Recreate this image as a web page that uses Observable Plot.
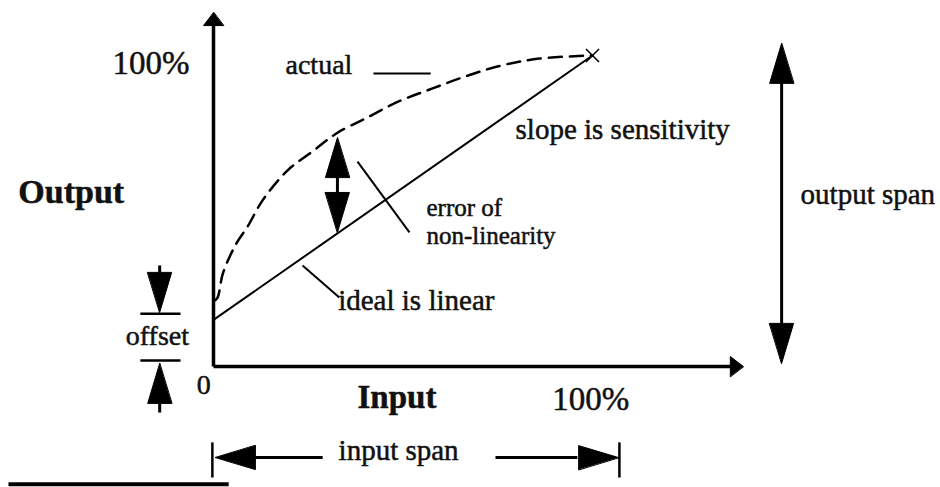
<!DOCTYPE html>
<html><head><meta charset="utf-8">
<script src="https://cdn.jsdelivr.net/npm/d3@7"></script>
<script src="https://cdn.jsdelivr.net/npm/@observablehq/plot@0.6"></script>
<style>body{margin:0;background:#fff} svg{display:block}</style>
</head><body><div id="chart"></div>
<script>
// Chart units: x = input (%), y = output (%)
const actualX = [0, 1, 2.5, 6, 9, 13, 19.5, 26.5, 32.5, 40.5, 49, 58, 67, 76, 86, 100];
const actualY = [21, 22, 30, 39.5, 45, 53.5, 63, 69.5, 75, 80, 85.3, 89.5, 93.5, 96.8, 99, 100];
const idealX = [0, 100];
const idealY = [15, 100];
const endPoint = [{x: 100, y: 100}];

// axes (origin to arrow base)
const axisLines = [
  {x1: 0, y1: 0, x2: 0, y2: 111},
  {x1: 0, y1: 0, x2: 137, y2: 0}
];
const axisHeads = [
  {x: 0, y: 113.8, rotate: 0},
  {x: 139.8, y: 0, rotate: 90}
];
// span / error / offset arrow shafts and bars
const shafts = [
  {x1: 149.9, y1: 100, x2: 149.9, y2: 5},       // output span
  {x1: 32.7, y1: 66, x2: 32.7, y2: 50},         // error of non-linearity
  {x1: -14.2, y1: 32.5, x2: -14.2, y2: 25},     // offset top
  {x1: -14.2, y1: -9, x2: -14.2, y2: -14.8},    // offset bottom
  {x1: 11, y1: -29.3, x2: 28.8, y2: -29.3},     // input span left
  {x1: 74.4, y1: -29.3, x2: 96, y2: -29.3}      // input span right
];
const bars = [
  {x1: -19.3, y1: 17, x2: -8.7, y2: 17},
  {x1: -19.3, y1: 1.9, x2: -8.7, y2: 1.9},
  {x1: -0.3, y1: -24.4, x2: -0.3, y2: -35.7},
  {x1: 107.1, y1: -24.4, x2: 107.1, y2: -35.7}
];
const bigHeads = [
  {x: 149.9, y: 103.9, rotate: 0},
  {x: 149.9, y: 1.0, rotate: 180},
  {x: 32.7, y: 73.6, rotate: 0},
  {x: 32.7, y: 43.1, rotate: 180},
  {x: -14.2, y: 17.4, rotate: 180},
  {x: -14.2, y: 1.0, rotate: 0},
  {x: 0.5, y: -29.3, rotate: 270},
  {x: 106.9, y: -29.3, rotate: 90}
];
// leader lines
const leaders = [
  {x1: 42.2, y1: 94.2, x2: 57.3, y2: 94.2},
  {x1: 38.0, y1: 65.9, x2: 51.7, y2: 43.1},
  {x1: 23.5, y1: 32.5, x2: 33.2, y2: 22.2}
];
const underline = [{x1: -54.1, y1: -37.9, x2: 4.0, y2: -37.9}];

// labels
const labelsRegular = [
  {x: 19.0, y: 94.2, text: "actual", size: 28, anchor: "start"},
  {x: 79.7, y: 73.3, text: "slope is sensitivity", size: 29, anchor: "start"},
  {x: 56.2, y: 39.3, text: "error of\nnon-linearity", size: 25, anchor: "start"},
  {x: 32.9, y: 18.3, text: "ideal is linear", size: 29, anchor: "start"},
  {x: -14.8, y: 6.8, text: "offset", size: 28, anchor: "middle"},
  {x: -2.6, y: -8.7, text: "0", size: 28, anchor: "middle"},
  {x: 33.0, y: -30.2, text: "input span", size: 29, anchor: "start"},
  {x: 154.9, y: 52.4, text: "output span", size: 29, anchor: "start"},
  {x: -6.3, y: 94.2, text: "100%", size: 33, anchor: "end"},
  {x: 89.4, y: -14.1, text: "100%", size: 33, anchor: "start"}
];
const labelsBold = [
  {x: -51.5, y: 52.7, text: "Output", size: 34, anchor: "start"},
  {x: 38.0, y: -13.5, text: "Input", size: 33, anchor: "start"}
];

const triangle = {draw(ctx, l, r) { ctx.moveTo(0, -l); ctx.lineTo(-r, 0); ctx.lineTo(r, 0); ctx.closePath(); }};
const actual = actualX.map((x, i) => ({x, y: actualY[i]}));
const ideal = idealX.map((x, i) => ({x, y: idealY[i]}));

const textMarks = (rows, weight) => ["start", "middle", "end"].flatMap(a =>
  [...new Set(rows.filter(d => d.anchor === a).map(d => d.size))].map(s =>
    Plot.text(rows.filter(d => d.anchor === a && d.size === s), {
      x: "x", y: "y", text: "text", textAnchor: a, lineAnchor: "bottom", lineHeight: 1.12,
      fontSize: s, fontWeight: weight, fill: "#111", stroke: "#111", strokeWidth: 0.5,
      fontFamily: "Liberation Serif"
    })));

const chart = Plot.plot({
  width: 940, height: 487, margin: 0,
  x: {domain: [0, 100], range: [213, 592], axis: null},
  y: {domain: [0, 100], range: [366, 55], axis: null},
  style: {background: "white", fontFamily: "Liberation Serif"},
  marks: [
    Plot.link(axisLines, {x1: "x1", y1: "y1", x2: "x2", y2: "y2", stroke: "black", strokeWidth: 3.5}),
    Plot.vector(axisHeads, {x: "x", y: "y", rotate: "rotate", length: 13, r: 10, anchor: "end", shape: triangle, fill: "black", stroke: "black", strokeWidth: 1}),
    Plot.line(ideal, {x: "x", y: "y", stroke: "black", strokeWidth: 2}),
    Plot.line(actual, {x: "x", y: "y", stroke: "black", strokeWidth: 2.5, strokeDasharray: "13,8", curve: "catmull-rom"}),
    Plot.dot(endPoint, {x: "x", y: "y", symbol: "times", r: 6, stroke: "black", strokeWidth: 1.5}),
    Plot.link(shafts, {x1: "x1", y1: "y1", x2: "x2", y2: "y2", stroke: "black", strokeWidth: 3}),
    Plot.link(bars, {x1: "x1", y1: "y1", x2: "x2", y2: "y2", stroke: "black", strokeWidth: 2.5}),
    Plot.vector(bigHeads, {x: "x", y: "y", rotate: "rotate", length: 40, r: 12, anchor: "end", shape: triangle, fill: "black", stroke: "black", strokeWidth: 1}),
    Plot.link(leaders, {x1: "x1", y1: "y1", x2: "x2", y2: "y2", stroke: "black", strokeWidth: 2}),
    Plot.link(underline, {x1: "x1", y1: "y1", x2: "x2", y2: "y2", stroke: "black", strokeWidth: 4}),
    ...textMarks(labelsRegular, "normal"),
    ...textMarks(labelsBold, "bold")
  ]
});
document.getElementById("chart").append(chart);
</script>
</body></html>
